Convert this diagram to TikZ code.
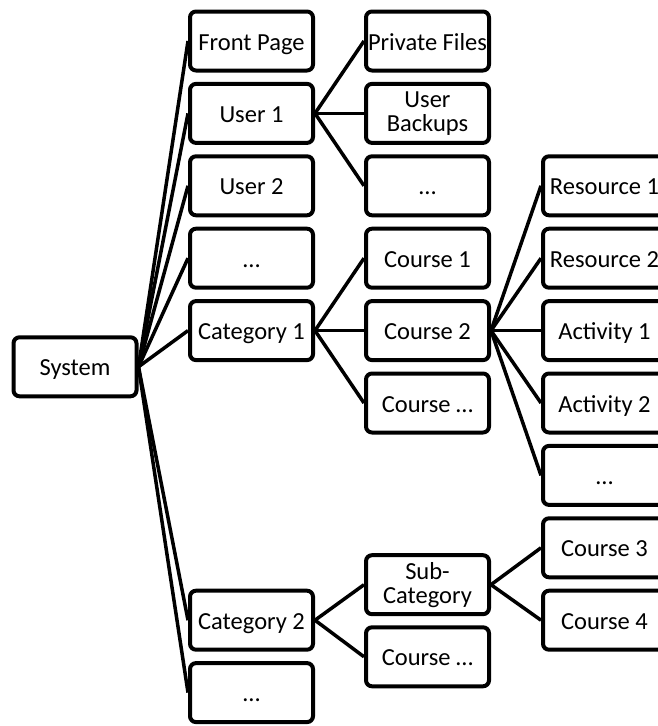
\documentclass[tikz,border=0pt]{standalone}
\usepackage{fontspec}
\setmainfont{Carlito}
\newcommand\mstrut{\rule[-3pt]{0pt}{20pt}}
\begin{document}
\begin{tikzpicture}[x=1pt,y=-1pt,
  base/.style={draw, line width=4pt, rounded corners=6pt, fill=white,
    minimum width=123pt, minimum height=59pt, inner sep=0pt,
    align=center, font=\fontsize{24.5}{24}\selectfont},
  box/.style={base, text height=22pt, text depth=4pt},
  box2/.style={base},
  link/.style={line width=3.5pt}]
\useasboundingbox (0,0) rectangle (658,726);
\clip (0,0) rectangle (658,726);
% System
\node[box] (sys) at (75,366.8) {System};
% column 2
\node[box] (fp) at (251.5,41) {Front Page};
\node[box] (u1) at (251.5,113.4) {User 1};
\node[box] (u2) at (251.5,185.8) {User 2};
\node[box] (ud) at (251.5,258.2) {…};
\node[box] (cat1) at (251.5,330.6) {Category 1};
\node[box] (cat2) at (251.5,620.2) {Category 2};
\node[box] (cd) at (251.5,692.6) {…};
% column 3
\node[box] (pf) at (427.5,41) {Private Files};
\node[box2] (ub) at (427.5,113.4) {User\mstrut\\Backups\mstrut};
\node[box] (ud3) at (427.5,185.8) {…};
\node[box] (co1) at (427.5,258.2) {Course 1};
\node[box] (co2) at (427.5,330.6) {Course 2};
\node[box] (cod) at (427.5,403) {Course …};
\node[box2] (sub) at (427.5,584.7) {Sub-\mstrut\\Category\mstrut};
\node[box] (cod2) at (427.5,656.8) {Course …};
% column 4
\node[box] (r1) at (604.5,185.8) {Resource 1};
\node[box] (r2) at (604.5,258.2) {Resource 2};
\node[box] (a1) at (604.5,330.6) {Activity 1};
\node[box] (a2) at (604.5,403) {Activity 2};
\node[box] (ad) at (604.5,475.4) {…};
\node[box] (c3) at (604.5,547.8) {Course 3};
\node[box] (c4) at (604.5,620.2) {Course 4};
% connectors
\foreach \t in {fp,u1,u2,ud,cat1,cat2,cd}
  \draw[link] (sys.east) -- (\t.west);
\foreach \t in {pf,ub,ud3}
  \draw[link] (u1.east) -- (\t.west);
\foreach \t in {co1,co2,cod}
  \draw[link] (cat1.east) -- (\t.west);
\foreach \t in {r1,r2,a1,a2,ad}
  \draw[link] (co2.east) -- (\t.west);
\foreach \t in {sub,cod2}
  \draw[link] (cat2.east) -- (\t.west);
\foreach \t in {c3,c4}
  \draw[link] (sub.east) -- (\t.west);
\end{tikzpicture}
\end{document}
